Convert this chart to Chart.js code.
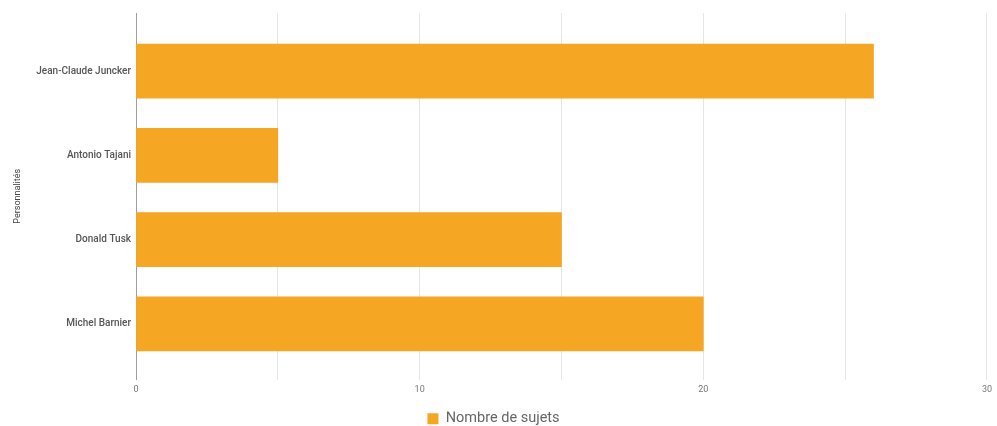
<!DOCTYPE html>
<html>
<head>
<meta charset="utf-8">
<script src="https://cdn.jsdelivr.net/npm/chart.js@4"></script>
<style>
  html, body { margin: 0; padding: 0; background: #fff; }
  #wrap { width: 997px; height: 426px; }
</style>
</head>
<body>
<div id="wrap"><canvas id="chart"></canvas></div>
<script>
// Données
const personnalites = ['Jean-Claude Juncker', 'Antonio Tajani', 'Donald Tusk', 'Michel Barnier'];
const nombreSujets = [26, 5, 15, 20];
const xTicks = [0, 10, 20, 30];

const ctx = document.getElementById('chart').getContext('2d');

new Chart(ctx, {
    type: 'bar',
    data: {
        datasets: [{
            label: 'Nombre de sujets',
            data: nombreSujets.map((v, i) => ({ x: v, y: i })),
            backgroundColor: '#F5A623',
            borderWidth: 0,
            barThickness: 54
        }]
    },
    options: {
        indexAxis: 'y',
        responsive: true,
        maintainAspectRatio: false,
        animation: false,
        layout: { padding: { top: 13, right: 10, left: 0, bottom: -10 } },
        scales: {
            x: {
                type: 'linear',
                min: 0,
                max: 30,
                ticks: {
                    stepSize: 5,
                    autoSkip: false,
                    maxRotation: 0,
                    color: '#777',
                    font: { family: 'Roboto', size: 9 },
                    padding: 5,
                    callback: v => xTicks.includes(v) ? String(v) : ''
                },
                grid: {
                    drawTicks: false,
                    color: ctx => ctx.tick && ctx.tick.value === 0 ? '#9e9e9e' : '#e6e6e6'
                },
                border: { display: false },
                afterFit: scale => { scale.height = 32; }
            },
            y: {
                type: 'linear',
                reverse: true,
                offset: false,
                min: -0.69,
                max: 3.66,
                afterBuildTicks: scale => {
                    scale.ticks = personnalites.map((p, i) => ({ value: i }));
                },
                ticks: {
                    color: '#555',
                    font: { family: 'Roboto', size: 10, weight: '500' },
                    padding: 5,
                    callback: v => personnalites[v]
                },
                grid: { display: false, drawTicks: false, offset: false },
                border: { display: true, color: '#9e9e9e', width: 1 },
                title: {
                    display: true,
                    text: 'Personnalités',
                    color: '#444',
                    font: { family: 'Roboto', size: 9 },
                    padding: { top: 12, bottom: 0 }
                },
                afterFit: scale => { scale.width = 136; }
            }
        },
        plugins: {
            legend: {
                position: 'bottom',
                labels: {
                    boxWidth: 11,
                    boxHeight: 11,
                    padding: 0,
                    color: '#666',
                    font: { family: 'Roboto', size: 14.5 }
                }
            },
            tooltip: { enabled: false }
        }
    }
});
</script>
</body>
</html>
